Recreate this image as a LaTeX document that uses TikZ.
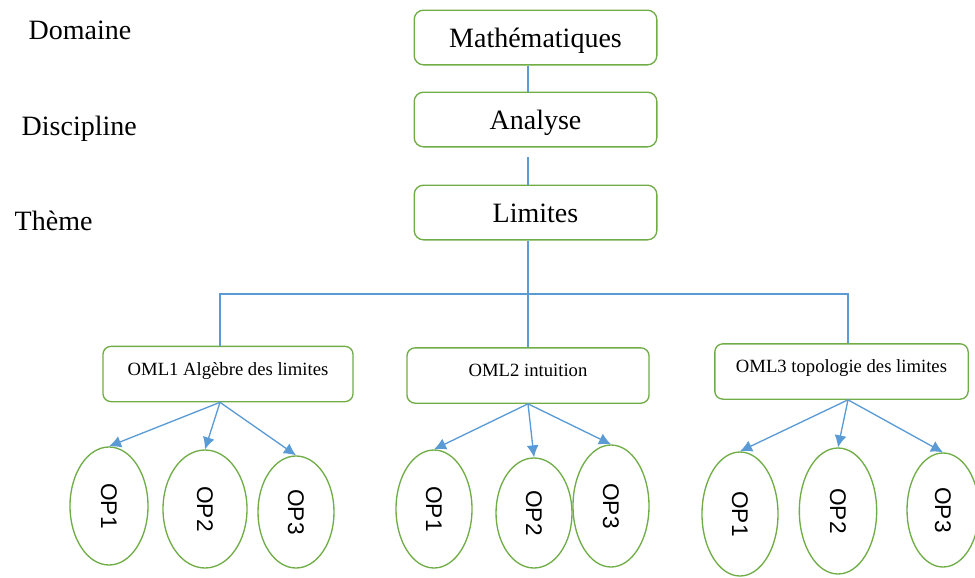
\documentclass[tikz,border=0pt]{standalone}
\usepackage{fontspec}
\setmainfont{Liberation Serif}
\newfontfamily\opfont{Liberation Sans}
\usetikzlibrary{calc}
\usetikzlibrary{shapes.geometric,arrows.meta}
\definecolor{boxgreen}{RGB}{112,173,71}
\definecolor{linkblue}{RGB}{91,155,213}

\begin{document}
\begin{tikzpicture}[x=0.75pt, y=-0.75pt]
    \tikzset{levelbox/.style={draw=boxgreen, line width=1pt, rounded corners=7pt,
        minimum width=182pt, minimum height=41pt, text height=17pt, text depth=2pt,
        font=\fontsize{21}{24}\selectfont}}
    \tikzset{omlbox/.style={draw=boxgreen, line width=1pt, rounded corners=6pt,
        minimum height=41.5pt, text height=10pt, text depth=8pt,
        font=\fontsize{14}{16}\selectfont}}
    \tikzset{opnode/.style={draw=boxgreen, line width=1pt, ellipse, inner sep=0pt,
        font=\opfont\fontsize{17}{19}\selectfont}}
    \tikzset{link/.style={draw=linkblue, line width=1pt}}
    \tikzset{arr/.style={link, -{Latex[length=9pt, width=9pt]}}}
    \useasboundingbox (0,0) rectangle (975,578);

    % niveaux
    \node [anchor=base west, font=\fontsize{21}{24}\selectfont] (dom) at (24,40) {Domaine};
    \node [anchor=base west, font=\fontsize{21}{24}\selectfont] (disc) at (17,135) {Discipline};
    \node [anchor=base west, font=\fontsize{21}{24}\selectfont] (theme) at (10,230) {Thème};

    \node [levelbox] (math) at (535.5,37.5) {Mathématiques};
    \node [levelbox] (ana) at (535.5,119.5) {Analyse};
    \node [levelbox] (lim) at (535.5,212.5) {Limites};

    \coordinate (bar1) at (220,294);
    \coordinate (bar2) at (528,294);
    \coordinate (bar3) at (848,294);

    \node [omlbox, minimum width=187.5pt] (oml1) at (228,374) {OML1 Algèbre des limites};
    \node [omlbox, minimum width=181.5pt] (oml2) at (528,375.5) {OML2 intuition};
    \node [omlbox, minimum width=190pt] (oml3) at (841.5,371.5) {OML3 topologie des limites};

    \draw [link] (bar2 |- math.south) -- (bar2 |- ana.north);
    \draw [link, shorten <=7pt] (bar2 |- ana.south) -- (bar2 |- lim.north);
    \draw [link] (bar2 |- lim.south) -- (bar2);
    \draw [link] (bar1 |- oml1.north) -- (bar1) -- (bar3) -- (bar3 |- oml3.north);
    \draw [link] (bar2) -- (bar2 |- oml2.north);

    % operations
    \node [opnode, minimum width=58.5pt, minimum height=88.5pt] (op11) at (109,506) {\rotatebox{-90}{OP1}};
    \node [opnode, minimum width=63pt, minimum height=88.5pt] (op12) at (205,509) {\rotatebox{-90}{OP2}};
    \node [opnode, minimum width=57pt, minimum height=84pt] (op13) at (296,512) {\rotatebox{-90}{OP3}};

    \node [opnode, minimum width=57pt, minimum height=88.5pt] (op21) at (434,509) {\rotatebox{-90}{OP1}};
    \node [opnode, minimum width=57pt, minimum height=82.5pt] (op22) at (534,513) {\rotatebox{-90}{OP2}};
    \node [opnode, minimum width=57pt, minimum height=91.5pt] (op23) at (611,506) {\rotatebox{-90}{OP3}};

    \node [opnode, minimum width=57pt, minimum height=93pt] (op31) at (740,514) {\rotatebox{-90}{OP1}};
    \node [opnode, minimum width=58pt, minimum height=94.5pt] (op32) at (838,511) {\rotatebox{-90}{OP2}};
    \node [opnode, minimum width=54pt, minimum height=85.5pt] (op33) at (943,510) {\rotatebox{-90}{OP3}};

    \draw [arr] (bar1 |- oml1.south) -- (op11.north);
    \draw [arr] (bar1 |- oml1.south) -- (op12.north);
    \draw [arr] (bar1 |- oml1.south) -- (op13.north);
    \draw [arr] (bar2 |- oml2.south) -- (op21.north);
    \draw [arr] (bar2 |- oml2.south) -- (op22.north);
    \draw [arr] (bar2 |- oml2.south) -- (op23.north);
    \draw [arr] (bar3 |- oml3.south) -- (op31.north);
    \draw [arr] (bar3 |- oml3.south) -- (op32.north);
    \draw [arr] (bar3 |- oml3.south) -- (op33.north);
\end{tikzpicture}
\end{document}
